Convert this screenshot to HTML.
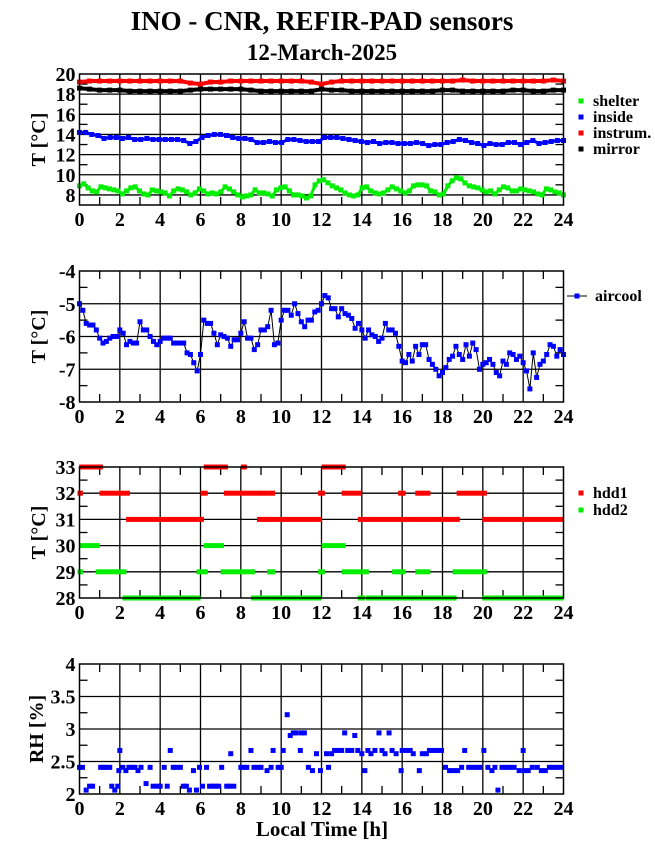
<!DOCTYPE html>
<html><head><meta charset="utf-8"><style>
body{margin:0;background:#fff;}
svg text{font-family:"Liberation Serif",serif;font-weight:bold;fill:#000;}
</style></head><body>
<svg id="c" width="655" height="860" xmlns="http://www.w3.org/2000/svg">
<text x="322" y="30" font-size="27" text-anchor="middle">INO - CNR, REFIR-PAD sensors</text>
<text x="322" y="60" font-size="23" text-anchor="middle">12-March-2025</text>
<text x="322" y="836" font-size="21" text-anchor="middle">Local Time [h]</text>
</svg>
<script>
const shelter=[8.9,9.1,8.7,8.4,8.3,8.8,8.7,8.6,8.5,8.4,8.1,8.4,8.7,8.8,8.4,8.1,8.0,8.5,8.4,8.3,8.2,7.9,8.4,8.6,8.5,8.3,8.0,8.2,8.6,8.4,8.1,8.2,8.1,8.3,8.8,8.6,8.3,8.0,7.8,7.9,8.0,8.5,8.2,8.2,8.1,7.9,8.5,8.7,8.8,8.4,8.0,8.0,7.9,7.7,7.9,9.0,9.4,9.5,9.2,8.9,8.7,8.5,8.2,8.0,7.9,8.0,8.7,8.8,8.4,8.2,8.1,8.2,8.5,8.8,8.6,8.4,8.2,8.4,8.9,9.0,9.0,8.9,8.4,8.3,8.0,8.1,8.9,9.4,9.7,9.6,9.2,8.9,8.8,8.7,8.5,8.3,8.4,8.1,8.5,8.8,8.7,8.4,8.4,8.6,8.5,8.4,8.3,8.1,8.0,8.6,8.5,8.3,8.2,8.0];
const inside=[14.2,14.2,14.0,13.9,13.6,13.7,13.7,13.6,13.7,13.5,13.5,13.6,13.5,13.5,13.5,13.5,13.5,13.4,13.1,13.3,13.7,13.9,14.0,14.0,13.9,13.7,13.6,13.6,13.5,13.2,13.2,13.3,13.2,13.2,13.5,13.5,13.4,13.3,13.3,13.3,13.7,13.7,13.7,13.6,13.5,13.4,13.3,13.2,13.3,13.1,13.2,13.2,13.1,13.1,13.1,13.2,13.1,12.9,13.0,13.0,13.2,13.3,13.5,13.4,13.2,13.1,12.9,13.1,13.0,13.0,13.2,13.2,13.0,13.2,13.4,13.1,13.2,13.3,13.4,13.4];
const instrum=[19.2,19.3,19.3,19.3,19.3,19.3,19.3,19.3,19.3,19.3,19.3,19.1,19.0,19.2,19.2,19.3,19.3,19.3,19.3,19.3,19.3,19.3,19.3,19.2,19.0,19.2,19.3,19.3,19.3,19.3,19.3,19.3,19.3,19.3,19.3,19.3,19.3,19.3,19.4,19.3,19.3,19.3,19.3,19.3,19.3,19.3,19.3,19.4,19.3];
const mirror=[18.6,18.5,18.4,18.4,18.4,18.3,18.3,18.3,18.3,18.3,18.3,18.4,18.5,18.5,18.5,18.5,18.5,18.4,18.3,18.3,18.3,18.3,18.3,18.3,18.5,18.4,18.4,18.3,18.3,18.3,18.3,18.3,18.3,18.3,18.3,18.3,18.4,18.4,18.3,18.3,18.3,18.3,18.3,18.4,18.4,18.3,18.3,18.4,18.4];
const aircool=[-5.0,-5.2,-5.6,-5.65,-5.65,-5.8,-6.05,-6.2,-6.15,-6.05,-6.0,-6.0,-5.8,-5.9,-6.25,-6.15,-6.2,-6.2,-5.55,-5.8,-5.8,-6.0,-6.15,-6.25,-6.15,-6.05,-6.05,-6.05,-6.2,-6.2,-6.2,-6.2,-6.5,-6.55,-6.8,-7.05,-6.55,-5.5,-5.6,-5.6,-5.9,-6.25,-5.95,-6.0,-6.05,-6.3,-6.1,-6.1,-5.9,-5.55,-6.05,-6.05,-6.4,-6.25,-5.8,-5.8,-5.7,-5.2,-6.25,-6.2,-5.5,-5.2,-5.2,-5.35,-5.0,-5.3,-5.55,-5.7,-5.5,-5.5,-5.25,-5.2,-5.0,-4.75,-4.82,-5.15,-5.15,-5.4,-5.15,-5.3,-5.35,-5.45,-5.75,-5.6,-5.8,-6.05,-5.8,-5.95,-6.0,-6.15,-6.05,-5.6,-5.8,-5.8,-5.9,-6.3,-6.75,-6.8,-6.55,-6.75,-6.3,-6.55,-6.25,-6.25,-6.7,-6.85,-7.0,-7.2,-7.1,-6.95,-6.7,-6.6,-6.3,-6.55,-6.7,-6.25,-6.6,-6.2,-6.4,-7.0,-6.85,-6.8,-6.7,-6.85,-7.1,-7.2,-6.75,-6.85,-6.5,-6.55,-6.7,-6.6,-6.8,-7.05,-7.6,-6.5,-7.25,-6.85,-6.75,-6.55,-6.25,-6.3,-6.6,-6.4,-6.55];
const hdd1Start=[0.08,6.26,8.1,12.1,0,1.09,6.1,7.26,8.26,9.06,9.4,11.93,13.1,15.9,16.75,17.1,18.8,2.41,8.9,9.25,9.55,13.9,16.1,16.95,17.25,20.07];
const hdd1End=[1.06,7.26,8.2,13.1,0.07,2.4,6.26,8.1,8.9,9.2,9.6,12.07,13.9,16.07,16.93,17.3,20.1,6.07,9.1,9.4,11.93,15.93,16.78,17.1,18.76,23.9];
const hdd1Val=[33,33,33,33,32,32,32,32,32,32,32,32,32,32,32,32,32,31,31,31,31,31,31,31,31,31];
const hdd2Start=[0.08,6.26,12.1,0,0.9,5.9,7.1,9.4,11.93,13.1,14.1,15.6,15.9,16.75,17.1,18.6,2.23,8.6,9.6,13.9,14.3,15.77,16.1,16.95,17.25,20.07];
const hdd2End=[0.9,7.06,13.1,0.07,2.23,6.26,8.6,9.6,12.07,13.9,14.25,15.75,16.07,16.93,17.3,20.1,5.9,9.4,11.9,14.05,15.57,15.93,16.78,17.1,18.6,23.9];
const hdd2Val=[30,30,30,29,29,29,29,29,29,29,29,29,29,29,29,29,28,28,28,28,28,28,28,28,28,28];
const rhTime=[0,0.15,0.33,0.5,0.65,1.05,1.2,1.35,1.5,1.6,1.75,1.9,1.95,2.0,2.15,2.3,2.45,2.6,2.75,2.9,3.05,3.3,3.5,3.65,3.85,4.0,4.2,4.35,4.5,4.65,4.8,5.0,5.15,5.3,5.45,5.65,5.8,5.95,6.1,6.3,6.45,6.6,6.75,6.9,7.05,7.3,7.45,7.5,7.65,8.0,8.15,8.3,8.5,8.65,8.85,9.0,9.3,9.5,9.6,9.85,10.0,10.1,10.3,10.45,10.6,10.75,10.95,11.0,11.15,11.35,11.55,11.75,11.95,12.25,12.35,12.5,12.65,12.8,13.0,13.15,13.3,13.5,13.65,13.8,14.0,14.15,14.3,14.45,14.65,14.85,15.0,15.15,15.35,15.5,15.7,15.95,16.0,16.2,16.4,16.55,16.85,17.0,17.2,17.35,17.55,17.75,17.95,18.15,18.35,18.55,18.75,18.95,19.1,19.3,19.5,19.7,19.85,20.05,20.25,20.45,20.6,20.75,20.95,21.15,21.35,21.55,21.8,22.0,22.05,22.25,22.45,22.7,22.9,23.1,23.3,23.5,23.7,23.9];
const rhVal=[2.41,2.41,2.06,2.12,2.12,2.41,2.41,2.41,2.41,2.12,2.06,2.12,2.36,2.67,2.41,2.36,2.41,2.41,2.41,2.36,2.41,2.16,2.41,2.12,2.12,2.12,2.41,2.12,2.67,2.41,2.41,2.41,2.12,2.12,2.06,2.36,2.06,2.41,2.12,2.41,2.12,2.12,2.12,2.12,2.41,2.12,2.12,2.62,2.12,2.41,2.41,2.41,2.67,2.41,2.41,2.41,2.36,2.41,2.67,2.41,2.41,2.67,3.22,2.9,2.94,2.94,2.67,2.94,2.94,2.41,2.36,2.62,2.36,2.62,2.41,2.62,2.67,2.67,2.67,2.94,2.67,2.67,2.9,2.67,2.62,2.36,2.67,2.62,2.67,2.94,2.67,2.62,2.94,2.67,2.62,2.36,2.67,2.67,2.67,2.62,2.36,2.62,2.62,2.67,2.67,2.67,2.67,2.41,2.36,2.36,2.36,2.41,2.67,2.41,2.41,2.41,2.41,2.67,2.41,2.36,2.41,2.06,2.41,2.41,2.41,2.41,2.36,2.67,2.36,2.36,2.41,2.41,2.36,2.36,2.41,2.41,2.41,2.41];
const xTicks=[0,2,4,6,8,10,12,14,16,18,20,22,24];

const svg=document.getElementById('c');
const NS='http://www.w3.org/2000/svg';
function mk(tag,attrs,parent){const e=document.createElementNS(NS,tag);for(const k in attrs)e.setAttribute(k,attrs[k]);(parent||svg).appendChild(e);return e;}
const X0=79.5,X1=563.5;
function panel(name,top,bot,ymin,ymax,tstart,major,minor,fmt,ytitle){
  const g=mk('g',{});
  
  
  const sx=h=>X0+(X1-X0)*h/24;
  const sy=v=>bot-(bot-top)*(v-ymin)/(ymax-ymin);
  for(let h=2;h<24;h+=2){const l=mk('line',{x1:sx(h),x2:sx(h),y1:top,y2:bot,stroke:'#000','stroke-width':1.3},g);}
  for(let v=tstart;v<ymax-1e-9;v+=major){if(v<=ymin+1e-9)continue;const l=mk('line',{x1:X0,x2:X1,y1:sy(v),y2:sy(v),stroke:'#000','stroke-width':1.3},g);}
  for(let h=1;h<24;h+=2){mk('line',{x1:sx(h),x2:sx(h),y1:top,y2:top+8,stroke:'#000','stroke-width':1.3},g);mk('line',{x1:sx(h),x2:sx(h),y1:bot,y2:bot-8,stroke:'#000','stroke-width':1.3},g);}
  for(let v=tstart-minor;v<ymax;v+=major){if(v<=ymin)continue;mk('line',{x1:X0,x2:X0+8,y1:sy(v),y2:sy(v),stroke:'#000','stroke-width':1.3},g);mk('line',{x1:X1,x2:X1-8,y1:sy(v),y2:sy(v),stroke:'#000','stroke-width':1.3},g);}
  for(const t of xTicks){const tx=mk('text',{x:sx(t),y:bot+21,'font-size':20,'text-anchor':'middle'},g);tx.textContent=t;}
  for(let v=tstart;v<=ymax+1e-9;v+=major){const tx=mk('text',{x:X0-4,y:sy(v)+7,'font-size':20,'text-anchor':'end'},g);tx.textContent=fmt(v);}
  const yt=mk('text',{x:0,y:0,'font-size':20,'text-anchor':'middle',transform:`translate(${name==='panel-rh'?43:45},${(top+bot)/2}) rotate(-90)`},g);
  yt.textContent=ytitle;
  return {g,sx,sy,top,bot};
}
function box(p){const r=mk('rect',{x:X0,y:p.top,width:X1-X0,height:p.bot-p.top,fill:'none',stroke:'#000','stroke-width':1.5},p.g);}
function series(p,vals,color,name,line,thick){
  const n=vals.length;const pts=vals.map((v,i)=>[p.sx(i*24/(n-1)),p.sy(v)]);
  const s=mk('g',{},p.g);
  mk('polyline',{points:pts.map(q=>q.join(',')).join(' '),fill:'none',stroke:line||color,'stroke-width':thick||1},s);
  for(const q of pts){const m=mk('rect',{x:q[0]-2.5,y:q[1]-2.5,width:5,height:5,fill:color},s);}
}
function legend(x,y,color,label,withLine){
  const g=mk('g',{});
  if(withLine)mk('line',{x1:x-10,x2:x+10,y1:y,y2:y,stroke:'#000','stroke-width':1},g);
  mk('rect',{x:x-2.5,y:y-2.5,width:5,height:5,fill:color},g);
  const t=mk('text',{x:x+12+(withLine?6:0),y:y+5,'font-size':16},g);t.textContent=label;
}
const p1=panel('panel-temperature',74,205,7,20,8,2,1,v=>v,'T [°C]');
series(p1,instrum,'#f00','series-instrum','#f00',4);
series(p1,mirror,'#000','series-mirror','#000',4);
series(p1,inside,'#00f','series-inside','#00f',3);
series(p1,shelter,'#0e0','series-shelter','#0e0',3);
box(p1);
legend(581,101,'#0e0','shelter');legend(581,117,'#00f','inside');legend(581,133,'#f00','instrum.');legend(581,149,'#000','mirror');
const p2=panel('panel-aircool',271,402,-8,-4,-8,1,0.5,v=>v,'T [°C]');
series(p2,aircool,'#00f','series-aircool','#000',1);
box(p2);
legend(577,296,'#00f','aircool',true);
const p3=panel('panel-hdd',467,598,28,33,28,1,0.5,v=>v,'T [°C]');
function runs(p,st,en,val,color,name){
  const s=mk('g',{},p.g);
  for(let i=0;i<st.length;i++){const r=mk('rect',{x:p.sx(st[i])-2,y:p.sy(val[i])-2.5,width:p.sx(en[i])-p.sx(st[i])+4,height:5,fill:color},s);}
}
runs(p3,hdd1Start,hdd1End,hdd1Val,'#f00','series-hdd1');
runs(p3,hdd2Start,hdd2End,hdd2Val,'#0e0','series-hdd2');
box(p3);
legend(581,493,'#f00','hdd1');legend(581,510,'#0e0','hdd2');
const p4=panel('panel-rh',664,794,2,4,2,0.5,0.25,v=>(Math.round(v*10)/10).toString(),'RH [%]');
{const s=mk('g',{},p4.g);
for(let i=0;i<rhTime.length;i++){const m=mk('rect',{x:p4.sx(rhTime[i])-2.5,y:p4.sy(rhVal[i])-2.5,width:5,height:5,fill:'#00f'},s);}}
box(p4);
</script>
</body></html>
